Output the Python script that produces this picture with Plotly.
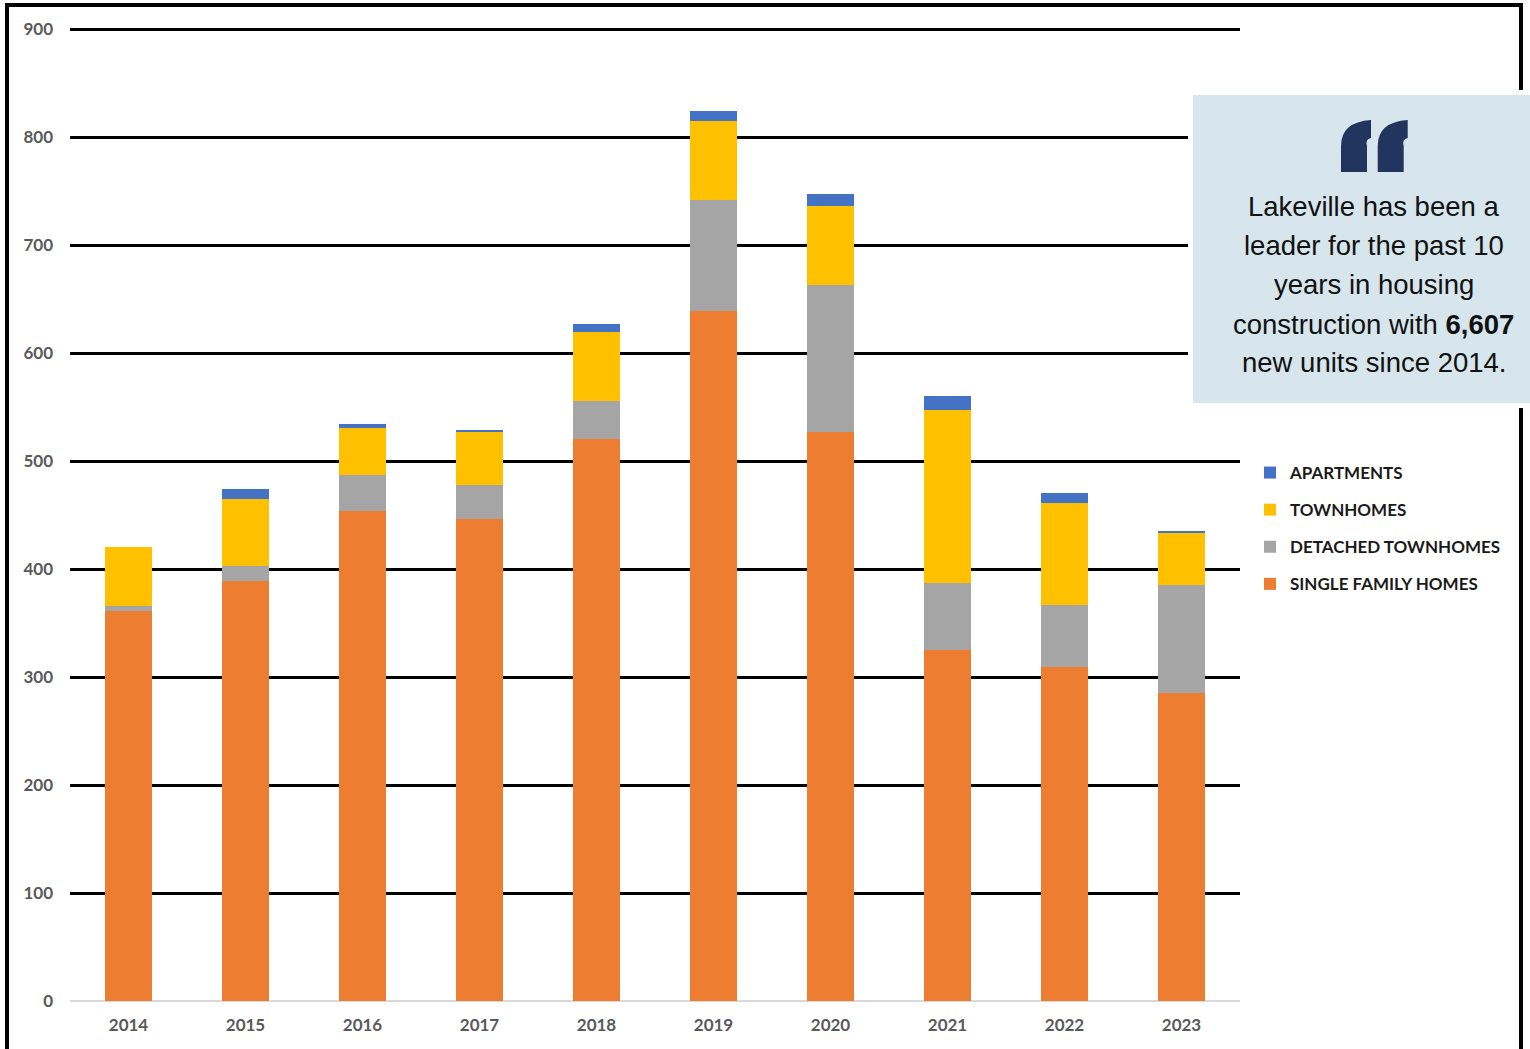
import plotly.graph_objects as go

# Housing units built per year, by type
years = ["2014", "2015", "2016", "2017", "2018", "2019", "2020", "2021", "2022", "2023"]
single_family = [361, 389, 454, 446, 520, 639, 527, 325, 309, 285]
detached_townhomes = [5, 14, 33, 32, 36, 103, 136, 62, 58, 100]
townhomes = [54, 62, 44, 49, 64, 73, 73, 160, 94, 49]
apartments = [0, 9, 3, 2, 7, 9, 11, 13, 9, 1]

series = [
    ("SINGLE FAMILY HOMES", single_family, "#ED7D31"),
    ("DETACHED TOWNHOMES", detached_townhomes, "#A5A5A5"),
    ("TOWNHOMES", townhomes, "#FFC000"),
    ("APARTMENTS", apartments, "#4472C4"),
]

quote_lines = [
    "Lakeville has been a",
    "leader for the past 10",
    "years in housing",
    "construction with <b>6,607</b>",
    "new units since 2014.",
]

W, H = 1530, 1049
ML, MR, MT, MB = 70, 290, 27, 48
PW, PH = W - ML - MR, H - MT - MB


def px_x(x):
    return (x - ML) / PW


def px_y(y):
    return (H - MB - y) / PH


def path_px(points):
    # points: list of (cmd, [x, y, ...]) in page pixels -> paper-coordinate SVG path
    out = []
    for cmd, coords in points:
        if cmd == "Z":
            out.append("Z")
            continue
        pairs = []
        for i in range(0, len(coords), 2):
            pairs.append(f"{px_x(coords[i]):.5f},{px_y(coords[i + 1]):.5f}")
        out.append(cmd + " " + " ".join(pairs))
    return " ".join(out)


fig = go.Figure()
n = len(series)
for i, (name, vals, color) in enumerate(series):
    fig.add_trace(go.Bar(
        x=years, y=vals, name=name,
        marker=dict(color=color, line=dict(width=0)),
        legendgroup=f"g{i}", legendrank=n - i,
    ))

font_ticks = dict(family="Lato", size=17, color="#595959", weight="bold")

fig.update_layout(
    width=W, height=H,
    barmode="stack", bargap=0.6,
    margin=dict(l=ML, r=MR, t=MT, b=MB),
    paper_bgcolor="white", plot_bgcolor="white",
    showlegend=True,
    legend=dict(
        x=px_x(1250), xanchor="left",
        y=px_y(455), yanchor="top",
        traceorder="grouped", tracegroupgap=12,
        font=dict(family="Lato", size=17, color="#1a1a1a", weight="bold"),
        itemwidth=30, bgcolor="rgba(0,0,0,0)",
    ),
    xaxis=dict(
        showgrid=False, showline=False, zeroline=False,
        tickfont=font_ticks, ticks="", ticklabelstandoff=12,
    ),
    yaxis=dict(
        range=[0, 902], dtick=100, tick0=0,
        showgrid=True, gridcolor="#000000", gridwidth=3,
        zeroline=True, zerolinecolor="#d9d9d9", zerolinewidth=2,
        showline=False, ticks="", ticklabelstandoff=16,
        tickfont=font_ticks,
    ),
)

shapes = [
    # page frame
    dict(type="rect", xref="paper", yref="paper", layer="above",
         x0=px_x(7), x1=px_x(1521), y0=px_y(1070), y1=px_y(5),
         line=dict(color="#000000", width=4), fillcolor="rgba(0,0,0,0)"),
    # white margin around the quote panel
    dict(type="rect", xref="paper", yref="paper", layer="above",
         x0=px_x(1188), x1=px_x(1540), y0=px_y(408), y1=px_y(90),
         line=dict(width=0), fillcolor="#ffffff"),
    # quote panel
    dict(type="rect", xref="paper", yref="paper", layer="above",
         x0=px_x(1193), x1=px_x(1540), y0=px_y(403), y1=px_y(95),
         line=dict(width=0), fillcolor="#d7e5ec"),
]

# opening quotation mark glyph
for dx in (0, 36.7):
    pts = [
        ("M", [1341 + dx, 172]),
        ("L", [1341 + dx, 146]),
        ("Q", [1341 + dx, 122, 1371 + dx, 120]),
        ("L", [1371 + dx, 138]),
        ("Q", [1365 + dx, 139, 1367 + dx, 146]),
        ("L", [1367 + dx, 172]),
        ("Z", []),
    ]
    shapes.append(dict(type="path", xref="paper", yref="paper", layer="above",
                       path=path_px(pts), fillcolor="#21355f", line=dict(width=0)))

fig.update_layout(shapes=shapes)

line_y = [207, 245, 284, 324, 362]
for txt, yy in zip(quote_lines, line_y):
    fig.add_annotation(
        text=txt, xref="paper", yref="paper",
        x=px_x(1373.5), y=px_y(yy), xanchor="center", yanchor="middle",
        showarrow=False,
        font=dict(family="Liberation Sans", size=27.5, color="#111111"),
    )

fig.write_html("out.html")
